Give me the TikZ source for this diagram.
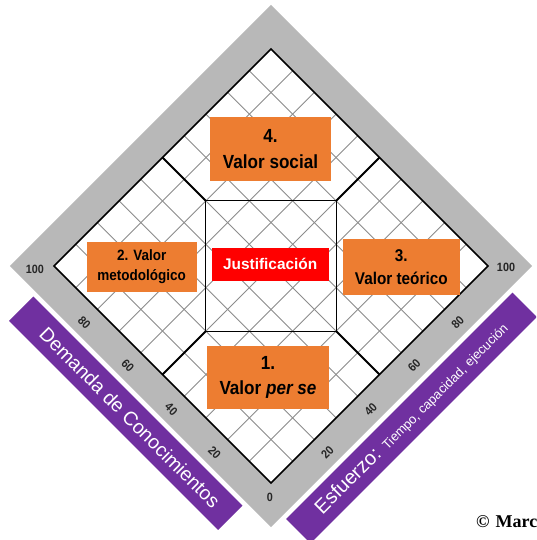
\documentclass[tikz,border=0pt]{standalone}
\usepackage{fontspec}
\setmainfont{Liberation Sans}
\newfontfamily\narrowfont[FakeStretch=0.9]{Liberation Sans}
\newfontfamily\markfont{Liberation Serif}

\definecolor{bandgray}{RGB}{184,184,184}
\definecolor{gridgray}{RGB}{140,140,140}
\definecolor{boxorange}{RGB}{237,125,49}
\definecolor{bandpurple}{RGB}{112,48,160}

\tikzset{
  valbox/.style={fill=boxorange, inner sep=0pt, align=center, text=black},
  purpleband/.style={fill=bandpurple, inner sep=0pt, text=white},
  ticklabel/.style={font=\narrowfont\bfseries\fontsize{12}{12}\selectfont, text=black!85, inner sep=0pt},
  gridline/.style={gridgray, line width=0.9pt},
}

\begin{document}
\begin{tikzpicture}[x=1pt,y=1pt]
        \useasboundingbox (-271,-274) rectangle (265,266);
        \clip (-271,-274) rectangle (265,266);

        % gray frame and white field
        \coordinate (TT) at (0,261);
        \coordinate (RR) at (261,0);
        \coordinate (BB) at (0,-261);
        \coordinate (LL) at (-261,0);
        \fill[bandgray] (TT) -- (RR) -- (BB) -- (LL) -- cycle;
        \coordinate (N) at (0,217);
        \coordinate (E) at (217,0);
        \coordinate (S) at (0,-217);
        \coordinate (W) at (-217,0);
        \fill[white] (N) -- (E) -- (S) -- (W) -- cycle;

        % grid, every 10
        \foreach \k in {1,...,9}{
          \pgfmathsetmacro\c{-217+43.4*\k}
          \draw[gridline] ({(\c-217)/2},{(\c+217)/2}) -- ({(\c+217)/2},{(\c-217)/2});
          \draw[gridline] ({(\c-217)/2},{(-217-\c)/2}) -- ({(\c+217)/2},{(217-\c)/2});
        }
        \draw[line width=1.6pt] (N) -- (E) -- (S) -- (W) -- cycle;

        % centre square and its four arms
        \node (sq) [draw, line width=1.4pt, minimum size=131pt, inner sep=0pt, outer sep=0pt] at (0,0) {};
        \coordinate (nw) at (-108.5,108.5);
        \coordinate (ne) at (108.5,108.5);
        \coordinate (sw) at (-108.5,-108.5);
        \coordinate (se) at (108.5,-108.5);
        \draw[line width=1.8pt] (sq.north west) -- (nw);
        \draw[line width=1.8pt] (sq.north east) -- (ne);
        \draw[line width=1.8pt] (sq.south west) -- (sw);
        \draw[line width=1.8pt] (sq.south east) -- (se);

        % boxes
        \node[valbox, minimum width=121pt, minimum height=63.7pt,
              font=\narrowfont\bfseries\fontsize{19}{26.5}\selectfont] (soc) at (-0.5,116.8) {4.\\Valor social};
        \node[valbox, minimum width=122.6pt, minimum height=63.3pt,
              font=\narrowfont\bfseries\fontsize{19}{24.5}\selectfont] (pse) at (-3,-111.4) {1.\\Valor \textit{per se}};
        \node[valbox, minimum width=110pt, minimum height=50pt,
              font=\narrowfont\bfseries\fontsize{15}{19.5}\selectfont] (met) at (-129.3,-0.7) {2. Valor\\metodológico};
        \node[valbox, minimum width=117.3pt, minimum height=56pt,
              font=\narrowfont\bfseries\fontsize{17}{23.5}\selectfont] (teo) at (130.3,-1) {3.\\Valor teórico};
        \node[fill=red, text=white, inner sep=0pt, minimum width=117pt, minimum height=33.3pt,
              font=\bfseries\fontsize{15.4}{16}\selectfont] (jus) at (-0.8,1.7) {Justificación};

        % scale numbers
        \foreach \v in {20,40,60,80}{
          \node[ticklabel, rotate=-45] (l\v) at ({-2.17*\v-13},{-217+2.17*\v-13}) {\v};
          \node[ticklabel, rotate=45] (r\v) at ({2.17*\v+13},{-217+2.17*\v-13}) {\v};
        }
        \node[ticklabel] (l100) at (-236,-3) {100};
        \node[ticklabel] (r100) at (235,-1) {100};
        \node[ticklabel] (zero) at (-1,-231) {0};

        % purple bands
        \node[purpleband, rotate=-45, minimum width=295.6pt, minimum height=34.6pt,
              font=\fontsize{19.5}{20}\selectfont] (dem) at (-145.25,-147.25) {\hspace{12pt}Demanda de Conocimientos};
        \node[purpleband, rotate=45, minimum width=320.3pt, minimum height=34.6pt,
              font=\fontsize{20}{20}\selectfont] (esf) at (140.5,-152) {Esfuerzo: {\fontsize{13}{13}\selectfont Tiempo, capacidad, ejecución}};

        \node[anchor=base west, inner sep=0pt, font=\markfont\bfseries\fontsize{18}{18}\selectfont] (mark) at (205,-261) {©\hspace{6pt}Marc};
\end{tikzpicture}
\end{document}
